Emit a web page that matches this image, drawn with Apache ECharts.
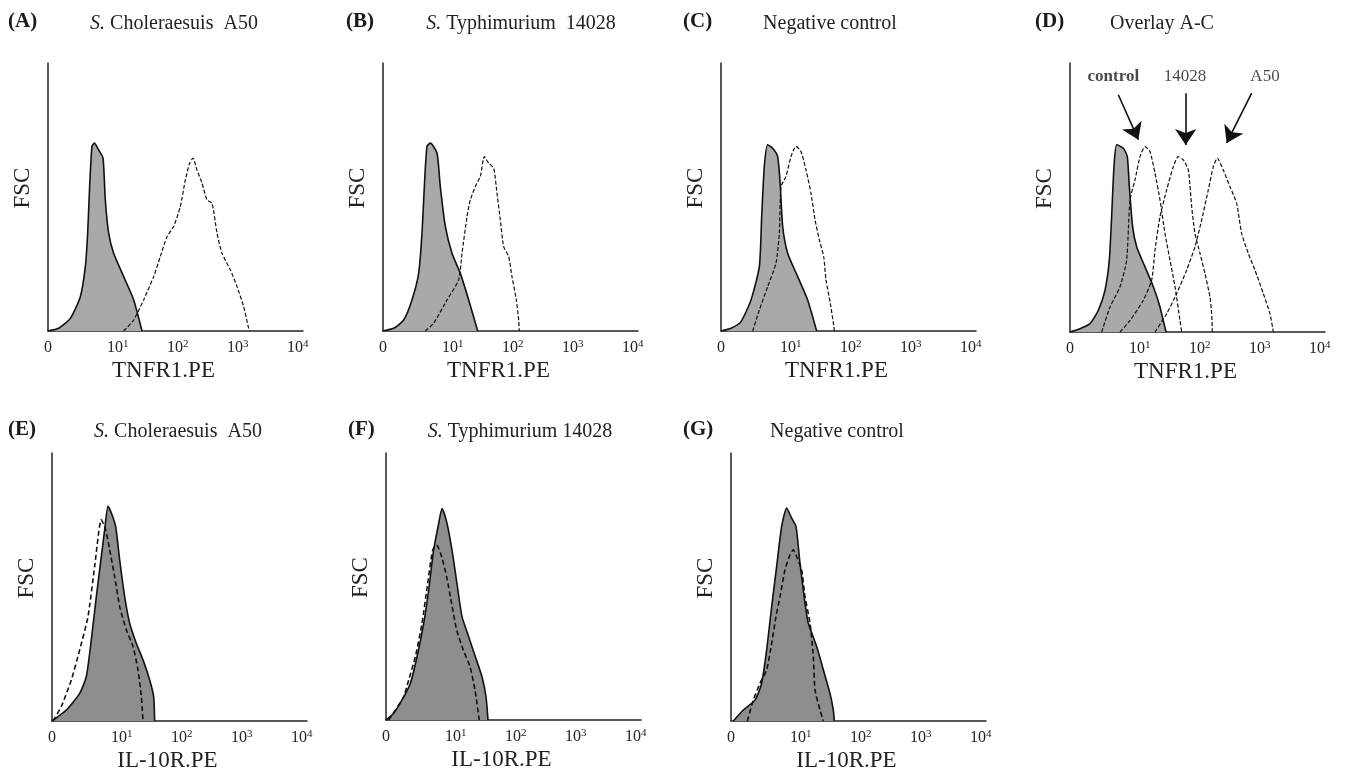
<!DOCTYPE html>
<html>
<head>
<meta charset="utf-8">
<script src="https://cdn.jsdelivr.net/npm/echarts@6/dist/echarts.min.js"></script>
<style>html,body{margin:0;padding:0;background:#fff;}#chart{width:1353px;height:776px;}</style>
</head>
<body>
<div id="chart"></div>
<script>
// ---- axis ticks (x in log-decade positions) ----
const tickValues = [-0.16, 1, 2, 3, 4];
const tickLabels = ['0', '10¹', '10²', '10³', '10⁴'];

// ---- panel texts ----
const panelLetters = ['(A)', '(B)', '(C)', '(D)', '(E)', '(F)', '(G)'];
const panelSubtitles = ['{i|S.} Choleraesuis  A50', '{i|S.} Typhimurium  14028', 'Negative control', 'Overlay A-C',
  '{i|S.} Choleraesuis  A50', '{i|S.} Typhimurium 14028', 'Negative control'];
const xNames = ['TNFR1.PE', 'TNFR1.PE', 'TNFR1.PE', 'TNFR1.PE', 'IL-10R.PE', 'IL-10R.PE', 'IL-10R.PE'];
const overlayLabels = ['control', '14028', 'A50'];

// ---- histogram data [position, relative count] ----
const A_filled = [[-0.161,0],[0.017,1.0],[0.211,4.7],[0.378,12.8],[0.461,24.0],[0.5,36.5],[0.533,53.9],[0.572,68.9],[0.611,70.1],[0.683,67.6],[0.756,64.5],[0.794,48.9],[0.85,36.5],[0.933,29.0],[1.1,20.3],[1.267,11.6],[1.406,0]];
const A_dashed = [[1.1,0],[1.267,4.1],[1.433,11.6],[1.6,20.3],[1.711,27.8],[1.822,35.2],[1.933,39.0],[2.044,46.4],[2.128,56.4],[2.2,62.6],[2.256,64.5],[2.322,60.1],[2.406,55.2],[2.489,48.9],[2.572,47.7],[2.656,36.5],[2.739,29.0],[2.878,22.8],[2.989,16.6],[3.1,9.1],[3.183,1.0],[3.2,0]];
const B_filled = [[-0.161,0],[0.017,1],[0.183,4.1],[0.322,11.6],[0.433,21.5],[0.489,36.5],[0.528,53.9],[0.572,68.9],[0.628,70.1],[0.739,66.4],[0.794,53.9],[0.878,39.0],[0.989,29.0],[1.128,21.5],[1.267,11.6],[1.417,0]];
const B_dashed = [[0.544,0],[0.683,2.9],[0.906,11.6],[1.1,19.1],[1.156,29.0],[1.239,42.7],[1.294,48.9],[1.378,53.9],[1.461,57.7],[1.528,65.1],[1.6,62.6],[1.683,60.8],[1.739,51.4],[1.794,41.5],[1.85,31.5],[1.933,27.8],[1.989,20.3],[2.061,11.6],[2.1,4.1],[2.111,0]];
const C_filled = [[-0.161,0],[0.006,1],[0.172,3.5],[0.339,11.6],[0.478,24.0],[0.517,42.7],[0.561,61.4],[0.617,69.5],[0.7,68.2],[0.783,65.1],[0.828,53.9],[0.867,39.0],[0.95,29.0],[1.117,20.3],[1.283,11.6],[1.433,0]];
const C_dashed = [[0.367,0],[0.478,7.8],[0.617,16.6],[0.756,25.3],[0.811,36.5],[0.839,53.9],[0.922,57.7],[1.006,65.1],[1.089,68.9],[1.172,67.0],[1.256,60.1],[1.339,51.4],[1.406,41.5],[1.478,34.0],[1.55,27.8],[1.589,19.1],[1.661,10.3],[1.717,2.2],[1.728,0]];
const D_filled = [[-0.161,0],[0.006,1.2],[0.172,3.1],[0.311,8.1],[0.422,15.5],[0.494,26.7],[0.533,42.9],[0.572,61.5],[0.617,69.6],[0.728,68.3],[0.794,65.2],[0.828,54.0],[0.883,39.1],[0.95,31.7],[1.089,24.2],[1.228,16.8],[1.339,9.3],[1.439,0]];
const D_control = [[0.367,0],[0.506,9.3],[0.672,16.8],[0.783,26.7],[0.839,49.1],[0.922,56.5],[1.006,65.2],[1.089,68.9],[1.172,67.1],[1.256,59.0],[1.339,49.1],[1.422,36.6],[1.506,26.7],[1.589,16.8],[1.672,4.3],[1.7,0]];
const D_14028 = [[0.672,0],[0.839,4.3],[1.061,11.8],[1.2,19.3],[1.256,30.4],[1.339,42.9],[1.45,52.8],[1.561,61.5],[1.644,65.2],[1.728,64.0],[1.811,60.2],[1.867,46.6],[1.922,36.6],[2.006,29.2],[2.089,21.7],[2.172,13.0],[2.2,6.8],[2.211,0]];
const D_A50 = [[1.256,0],[1.45,6.8],[1.617,14.3],[1.783,23.0],[1.922,31.7],[2.033,41.6],[2.144,52.8],[2.228,61.5],[2.294,64.6],[2.394,60.2],[2.506,54.0],[2.617,47.8],[2.7,36.6],[2.811,29.2],[2.922,23.0],[3.061,14.3],[3.172,6.8],[3.228,0]];
const E_filled = [[-0.161,0],[0.078,4.1],[0.3,10.3],[0.411,16.6],[0.494,30.3],[0.578,46.4],[0.661,61.4],[0.717,71.4],[0.772,80.1],[0.828,77.6],[0.9,72.6],[0.967,60.1],[1.05,46.4],[1.133,36.5],[1.244,29.0],[1.356,22.8],[1.467,15.3],[1.533,9.1],[1.55,0]];
const E_dashed = [[-0.144,0],[-0.006,5.4],[0.161,15.3],[0.3,26.5],[0.439,39.0],[0.55,57.7],[0.661,75.1],[0.733,71.4],[0.8,63.9],[0.883,53.9],[0.967,42.7],[1.078,34.0],[1.189,27.8],[1.272,19.1],[1.328,9.1],[1.356,0]];
const F_filled = [[-0.161,0],[-0.033,2.5],[0.106,7.5],[0.244,13.7],[0.356,23.7],[0.467,36.2],[0.55,48.6],[0.633,63.6],[0.717,73.6],[0.772,79.2],[0.856,73.6],[0.939,63.6],[1.022,51.1],[1.106,38.7],[1.217,31.2],[1.328,23.7],[1.439,16.2],[1.506,8.7],[1.539,0]];
const F_dashed = [[-0.117,0],[-0.006,3.7],[0.133,8.7],[0.217,15.0],[0.328,23.7],[0.439,36.2],[0.533,51.1],[0.617,63.6],[0.683,65.5],[0.767,61.1],[0.85,53.6],[0.933,43.6],[1.017,33.7],[1.128,26.2],[1.239,20.0],[1.322,11.2],[1.394,0]];
const G_filled = [[-0.122,0],[0.044,4.1],[0.239,7.8],[0.35,14.1],[0.433,26.5],[0.517,42.7],[0.6,57.7],[0.683,72.6],[0.767,79.5],[0.85,75.7],[0.922,72.6],[0.989,58.9],[1.072,44.0],[1.128,36.5],[1.267,27.8],[1.378,19.1],[1.489,10.3],[1.544,4.1],[1.561,0]];
const G_dashed = [[0.111,0],[0.211,7.8],[0.322,14.1],[0.433,19.1],[0.517,29.0],[0.589,39.0],[0.656,46.4],[0.739,56.4],[0.822,62.0],[0.878,63.9],[0.933,61.4],[1.017,56.4],[1.072,46.4],[1.156,36.5],[1.211,24.0],[1.239,11.6],[1.322,4.1],[1.378,0]];

// overlay annotation coordinates (data units of panel D)
const overlayLabelPos = [[0.561,95],[1.756,95],[3.089,95]];
const overlayArrows = [[[0.644,88.2],[0.978,71.5]],[[1.767,88.8],[1.767,69.5]],[[2.867,88.8],[2.45,70.3]]];

// ---- layout ----
const FONT = 'Liberation Serif';
const grids = [
  {left:48, top:63, width:255, height:268},
  {left:383, top:63, width:255, height:268},
  {left:721, top:63, width:255, height:268},
  {left:1070, top:63, width:255, height:269},
  {left:52, top:453, width:255, height:268},
  {left:386, top:453, width:255, height:267},
  {left:731, top:453, width:255, height:268}
];
const letterLeft = [8, 346, 683, 1035, 8, 348, 683];
const subCenter = [174, 521, 830, 1162, 178, 520, 837];

const supMap = {'¹':'1','²':'2','³':'3','⁴':'4'};
function fmtTick(v) {
  let idx = 0, best = 1e9;
  tickValues.forEach((t, i) => { if (Math.abs(t - v) < best) { best = Math.abs(t - v); idx = i; } });
  const lab = tickLabels[idx];
  if (lab.length === 1) return '{n|' + lab + '}';
  return '{n|' + lab.slice(0, 2) + '}{s|' + supMap[lab.slice(2)] + '}';
}

const titles = [];
panelLetters.forEach((t, i) => {
  const top = i < 4 ? 11 : 419;
  titles.push({text: t, left: letterLeft[i], top: top, padding: 0,
    textStyle: {fontFamily: FONT, fontSize: 21, fontWeight: 'bold', color: '#1a1a1a'}});
  titles.push({text: panelSubtitles[i], left: subCenter[i], top: top + 3, padding: 0, textAlign: 'center',
    textStyle: {fontFamily: FONT, fontSize: 20, fontWeight: 'normal', color: '#222',
      rich: {i: {fontFamily: FONT, fontSize: 20, fontStyle: 'italic', color: '#222'}}}});
});

const xAxes = grids.map((g, i) => ({
  gridIndex: i, type: 'value', min: -0.161, max: 4.089,
  name: xNames[i], nameLocation: 'middle', nameGap: 28,
  nameTextStyle: {fontFamily: FONT, fontSize: 23, color: '#222', padding: [0, 24, 0, 0]},
  axisLine: {show: true, onZero: false, lineStyle: {color: '#222', width: 1.5}},
  axisTick: {show: false},
  splitLine: {show: false},
  axisLabel: {customValues: tickValues, margin: 8, formatter: fmtTick,
    rich: {n: {fontFamily: FONT, fontSize: 16, color: '#222', lineHeight: 18},
           s: {fontFamily: FONT, fontSize: 11, color: '#222', verticalAlign: 'top', lineHeight: 10}}}
}));
const yAxes = grids.map((g, i) => ({
  gridIndex: i, type: 'value', min: 0, max: 100,
  name: 'FSC', nameLocation: 'middle', nameGap: 14, nameRotate: 90,
  nameTextStyle: {fontFamily: FONT, fontSize: 23, color: '#222', padding: [0, 0, 0, 18]},
  axisLine: {show: true, onZero: false, lineStyle: {color: '#222', width: 1.5}},
  axisTick: {show: false}, axisLabel: {show: false}, splitLine: {show: false}
}));

function filled(data, idx, color) {
  return {type: 'line', xAxisIndex: idx, yAxisIndex: idx, data: data, showSymbol: false, smooth: 0.2,
    silent: true, z: 2,
    lineStyle: {color: '#111', width: 1.6}, areaStyle: {color: color, opacity: 1}};
}
function dashed(data, idx, w, dash) {
  return {type: 'line', xAxisIndex: idx, yAxisIndex: idx, data: data, showSymbol: false, smooth: 0.2,
    silent: true, z: 3,
    lineStyle: {color: '#111', width: w, type: dash}};
}
const LIGHT = '#a9a9a9', DARK = '#8e8e8e';
const labelSeries = {type: 'scatter', xAxisIndex: 3, yAxisIndex: 3, symbolSize: 0, silent: true,
  data: overlayLabels.map((t, i) => ({name: t, value: overlayLabelPos[i],
    label: i === 0 ? {fontWeight: 'bold'} : {}})),
  label: {show: true, position: 'inside', formatter: p => p.name,
    fontFamily: FONT, fontSize: 17, color: '#1a1a1a'}};
const series = [
  filled(A_filled, 0, LIGHT), dashed(A_dashed, 0, 1.2, [4, 2]),
  filled(B_filled, 1, LIGHT), dashed(B_dashed, 1, 1.2, [4, 2]),
  filled(C_filled, 2, LIGHT), dashed(C_dashed, 2, 1.2, [4, 2]),
  filled(D_filled, 3, LIGHT), dashed(D_control, 3, 1.2, [4, 2]), dashed(D_14028, 3, 1.2, [4, 2]),
  Object.assign(dashed(D_A50, 3, 1.2, [4, 2]), {
    markLine: {silent: true, symbol: ['none', 'arrow'], symbolSize: 16,
      lineStyle: {color: '#111', width: 1.6, type: 'solid'}, label: {show: false},
      data: overlayArrows.map(a => [{coord: a[0]}, {coord: a[1]}])}
  }),
  labelSeries,
  filled(E_filled, 4, DARK), dashed(E_dashed, 4, 1.6, [5, 3]),
  filled(F_filled, 5, DARK), dashed(F_dashed, 5, 1.6, [5, 3]),
  filled(G_filled, 6, DARK), dashed(G_dashed, 6, 1.6, [5, 3])
];

const chart = echarts.init(document.getElementById('chart'), null, {renderer: 'canvas'});
chart.setOption({
  animation: false,
  backgroundColor: '#fff',
  title: titles,
  grid: grids,
  xAxis: xAxes,
  yAxis: yAxes,
  series: series
});
</script>
</body>
</html>
